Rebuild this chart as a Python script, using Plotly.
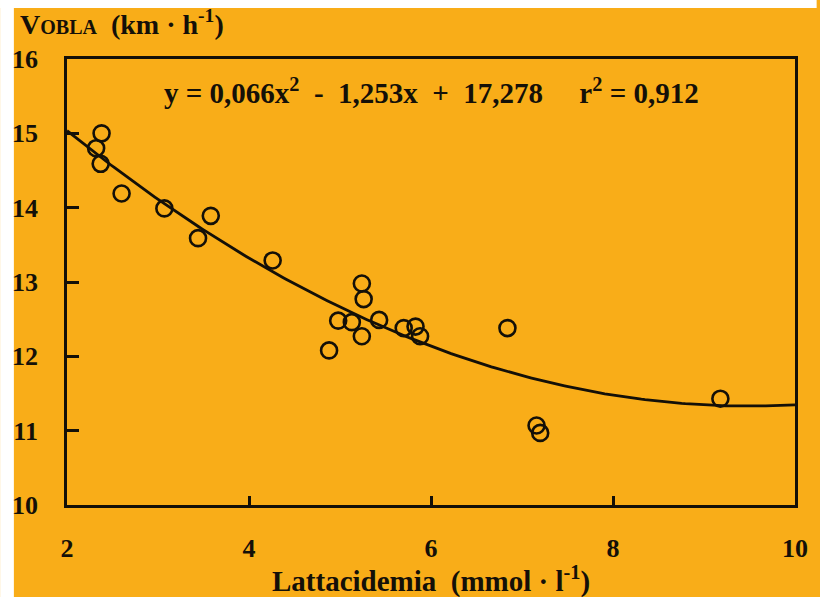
import numpy as np
import plotly.graph_objects as go

# Data
lactate = [2.38, 2.32, 2.37, 2.60, 3.07, 3.58, 3.44, 4.26,
           5.24, 5.26, 4.98, 5.13, 5.43, 5.24, 4.88, 5.70, 5.83, 5.88, 6.84,
           7.16, 7.20, 9.18]
speed = [15.0, 14.8, 14.59, 14.19, 13.99, 13.89, 13.59, 13.29,
         12.98, 12.77, 12.48, 12.46, 12.49, 12.27, 12.08, 12.38, 12.40, 12.27, 12.38,
         11.07, 10.97, 11.43]

# Fit coefficients shown on the chart
coef_a, coef_b, coef_c = 0.066, -1.253, 17.278
fit_x = np.linspace(2, 10, 200)
fit_y = coef_a * fit_x**2 + coef_b * fit_x + coef_c

x_ticks = [2, 4, 6, 8, 10]
y_ticks = [10, 11, 12, 13, 14, 15, 16]

ORANGE = "#F9AD18"
INK = "#141008"
FONT = "Liberation Serif"

W, H = 820, 597
ml, mr, mt, mb = 63, 17, 59, 92
pw, ph = W - ml - mr, H - mt - mb

def px_to_paper_x(px):
    return (px - ml) / pw

def px_to_paper_y(py):
    return (H - mb - py) / ph

fig = go.Figure()
fig.add_trace(go.Scatter(x=fit_x, y=fit_y, mode="lines",
                         line=dict(color=INK, width=2.8), hoverinfo="skip"))
fig.add_trace(go.Scatter(x=lactate, y=speed, mode="markers",
                         marker=dict(symbol="circle-open", size=16,
                                     line=dict(color=INK, width=2.6), color=INK)))

axis_common = dict(showgrid=False, zeroline=False, showline=True, linecolor=INK,
                   linewidth=2.8, mirror=True, ticks="inside", tickcolor=INK,
                   tickwidth=2.5,
                   tickfont=dict(family=FONT, size=26, color=INK, weight="bold"))

fig.update_xaxes(range=[2, 10], tickvals=x_ticks, ticklen=9,
                 ticklabelstandoff=18, **axis_common)
fig.update_yaxes(range=[10, 16], tickvals=y_ticks, ticklen=12,
                 ticklabelstandoff=21, **axis_common)

annotations = [
    dict(text="y&nbsp;= 0,066x<sup>2</sup>&nbsp; - &nbsp;1,253x&nbsp; + &nbsp;17,278&nbsp;&nbsp;&nbsp;&nbsp; r<sup>2</sup>&nbsp;= 0,912",
         x=px_to_paper_x(434), y=px_to_paper_y(91), xref="paper", yref="paper",
         showarrow=False, xanchor="center", yanchor="middle",
         font=dict(family=FONT, size=29, color=INK, weight="bold")),
    dict(text="V<span style='font-size:20px'>OBLA</span>&nbsp; (km · h<sup>-1</sup>)",
         x=px_to_paper_x(13), y=px_to_paper_y(23), xref="paper", yref="paper",
         showarrow=False, xanchor="left", yanchor="middle",
         font=dict(family=FONT, size=28, color=INK, weight="bold")),
    dict(text="Lattacidemia&nbsp; (mmol · l<sup>-1</sup>)",
         x=px_to_paper_x(433), y=px_to_paper_y(579), xref="paper", yref="paper",
         showarrow=False, xanchor="center", yanchor="middle",
         font=dict(family=FONT, size=29, color=INK, weight="bold")),
]

# white page edge visible at the top and left of the scanned figure
shapes = [
    dict(type="rect", xref="paper", yref="paper", layer="below",
         x0=px_to_paper_x(-5), x1=px_to_paper_x(W + 5),
         y0=px_to_paper_y(8), y1=px_to_paper_y(-5),
         fillcolor="white", line=dict(width=0)),
    dict(type="rect", xref="paper", yref="paper", layer="below",
         x0=px_to_paper_x(-5), x1=px_to_paper_x(9),
         y0=px_to_paper_y(H + 5), y1=px_to_paper_y(-5),
         fillcolor="white", line=dict(width=0)),
]

fig.update_layout(width=W, height=H, margin=dict(l=ml, r=mr, t=mt, b=mb),
                  paper_bgcolor=ORANGE, plot_bgcolor=ORANGE, showlegend=False,
                  annotations=annotations, shapes=shapes,
                  font=dict(family=FONT, color=INK))

fig.write_html("out.html")
